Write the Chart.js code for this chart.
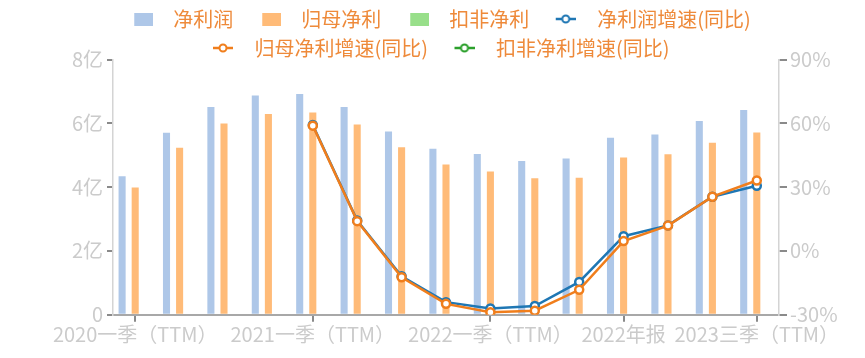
<!DOCTYPE html>
<html>
<head>
<meta charset="utf-8">
<script src="https://cdn.jsdelivr.net/npm/chart.js@4/dist/chart.umd.min.js"></script>
<style>
  html, body { margin: 0; padding: 0; background: #fff; }
  #wrap { width: 865px; height: 358px; }
</style>
</head>
<body>
<div id="wrap"><canvas id="c" width="865" height="358"></canvas></div>
<script>
const categories = ['2020一季（TTM）','2020中报（TTM）','2020三季（TTM）','2020年报','2021一季（TTM）','2021中报（TTM）','2021三季（TTM）','2021年报','2022一季（TTM）','2022中报（TTM）','2022三季（TTM）','2022年报','2023一季（TTM）','2023中报（TTM）','2023三季（TTM）'];
const shownLabelIdx = [0, 4, 8, 11, 14];
const netProfit = [4.34, 5.70, 6.51, 6.87, 6.92, 6.51, 5.74, 5.20, 5.04, 4.82, 4.90, 5.55, 5.65, 6.07, 6.42];
const parentProfit = [3.99, 5.23, 5.99, 6.29, 6.34, 5.96, 5.25, 4.71, 4.49, 4.28, 4.29, 4.93, 5.03, 5.39, 5.71];
const deductProfit = [null, null, null, null, null, null, null, null, null, null, null, null, null, null, null];
const netGrowth = [null, null, null, null, 59.2, 14.3, -11.9, -24.1, -27.1, -25.9, -14.6, 6.9, 12.0, 25.5, 30.6];
const parentGrowth = [null, null, null, null, 58.9, 14.0, -12.4, -24.9, -28.8, -28.1, -18.3, 4.6, 11.9, 25.5, 33.1];
const deductGrowth = [null, null, null, null, null, null, null, null, null, null, null, null, null, null, null];
const leftTicks = [0, 2, 4, 6, 8];
const rightTicks = [-30, 0, 30, 60, 90];

const FONT = "'Noto Sans CJK SC', 'Microsoft YaHei', 'Noto Sans', sans-serif";
const C_BLUE_BAR = '#aec7e8', C_ORANGE_BAR = '#ffbb78', C_GREEN_BAR = '#98df8a';
const C_BLUE = '#1f77b4', C_ORANGE = '#f07e1c', C_GREEN = '#2ca02c';
const C_TICKTXT = '#cbcbcb';

// legend icons: transparent left margin shifts icon right of the box centre
function rectIcon(color) {
  const c = document.createElement('canvas');
  c.width = 29; c.height = 13;
  const g = c.getContext('2d');
  g.fillStyle = color; g.fillRect(10, 0, 19, 13);
  return c;
}
function lineIcon(color) {
  const c = document.createElement('canvas');
  c.width = 26; c.height = 12;
  const g = c.getContext('2d');
  g.strokeStyle = color; g.lineWidth = 2.5;
  g.beginPath(); g.moveTo(6, 6); g.lineTo(26, 6); g.stroke();
  g.beginPath(); g.arc(16, 6, 3.5, 0, Math.PI * 2);
  g.fillStyle = '#fff'; g.fill(); g.lineWidth = 2; g.stroke();
  return c;
}
const icons = [rectIcon(C_BLUE_BAR), rectIcon(C_ORANGE_BAR), rectIcon(C_GREEN_BAR), lineIcon(C_BLUE), lineIcon(C_ORANGE), lineIcon(C_GREEN)];

const barCommon = { type: 'bar', yAxisID: 'y', barPercentage: 0.54, categoryPercentage: 0.885, order: 10 };
const lineCommon = { type: 'line', yAxisID: 'y1', borderWidth: 2.5, pointRadius: 4, pointHoverRadius: 4,
  pointBorderWidth: 2.5, pointBackgroundColor: '#fff', tension: 0, spanGaps: false };

const legendHeightPlugin = {
  id: 'legendHeight',
  afterInit(chart) {
    const lg = chart.legend;
    const orig = lg.fit.bind(lg);
    lg.fit = function () { orig(); this.height = 59.5; };
  }
};

new Chart(document.getElementById('c'), {
  data: {
    labels: categories,
    datasets: [
      Object.assign({}, barCommon, { label: '净利润', data: netProfit, backgroundColor: C_BLUE_BAR }),
      Object.assign({}, barCommon, { label: '归母净利', data: parentProfit, backgroundColor: C_ORANGE_BAR }),
      Object.assign({}, barCommon, { label: '扣非净利', data: deductProfit, backgroundColor: C_GREEN_BAR }),
      Object.assign({}, lineCommon, { label: '净利润增速(同比)', data: netGrowth, borderColor: C_BLUE, pointBorderColor: C_BLUE, order: 3 }),
      Object.assign({}, lineCommon, { label: '归母净利增速(同比)', data: parentGrowth, borderColor: C_ORANGE, pointBorderColor: C_ORANGE, order: 2 }),
      Object.assign({}, lineCommon, { label: '扣非净利增速(同比)', data: deductGrowth, borderColor: C_GREEN, pointBorderColor: C_GREEN, order: 1 })
    ]
  },
  options: {
    responsive: false,
    devicePixelRatio: 1,
    animation: false,
    layout: { padding: 0 },
    plugins: {
      tooltip: { enabled: false },
      legend: {
        position: 'top',
        labels: {
          usePointStyle: true,
          pointStyleWidth: 49,
          boxHeight: 13,
          padding: 9,
          color: '#ee8a3a',
          font: { family: FONT, size: 20 },
          generateLabels(chart) {
            const items = Chart.defaults.plugins.legend.labels.generateLabels(chart);
            items.sort((a, b) => a.datasetIndex - b.datasetIndex);
            items.forEach(it => { it.pointStyle = icons[it.datasetIndex]; it.fontColor = '#ee8a3a'; });
            return items;
          }
        }
      }
    },
    scales: {
      x: {
        offset: true,
        grid: {
          offset: false,
          drawOnChartArea: false,
          drawTicks: true,
          tickLength: 7,
          lineWidth: 2,
          color: (ctx) => shownLabelIdx.includes(ctx.index) ? '#8a8a8a' : 'rgba(0,0,0,0)'
        },
        border: { color: '#a8a8a8', width: 2 },
        ticks: {
          autoSkip: false,
          maxRotation: 0,
          minRotation: 0,
          padding: 1,
          color: C_TICKTXT,
          font: { family: FONT, size: 20 },
          callback: (v, i) => shownLabelIdx.includes(i) ? categories[i] : ''
        },
        afterFit(s) { s.height = 43.3; }
      },
      y: {
        position: 'left',
        min: 0, max: 8,
        afterBuildTicks(s) { s.ticks = leftTicks.map(v => ({ value: v })); },
        grid: { drawOnChartArea: false, drawTicks: true, tickLength: 6, lineWidth: 2, color: '#8a8a8a' },
        border: { color: '#d4d4d4', width: 1.5 },
        ticks: {
          padding: 4,
          color: C_TICKTXT,
          font: { family: FONT, size: 20 },
          callback: (v) => v === 0 ? '0' : v + '亿'
        },
        afterFit(s) { s.width = 113; }
      },
      y1: {
        position: 'right',
        min: -30, max: 90,
        afterBuildTicks(s) { s.ticks = rightTicks.map(v => ({ value: v })); },
        grid: { drawOnChartArea: false, drawTicks: true, tickLength: 8, lineWidth: 2, color: '#8a8a8a' },
        border: { color: '#d4d4d4', width: 1.5 },
        ticks: {
          padding: 3,
          color: C_TICKTXT,
          font: { family: FONT, size: 20 },
          callback: (v) => v + '%'
        },
        afterFit(s) { s.width = 86; }
      }
    }
  },
  plugins: [legendHeightPlugin]
});
</script>
</body>
</html>
